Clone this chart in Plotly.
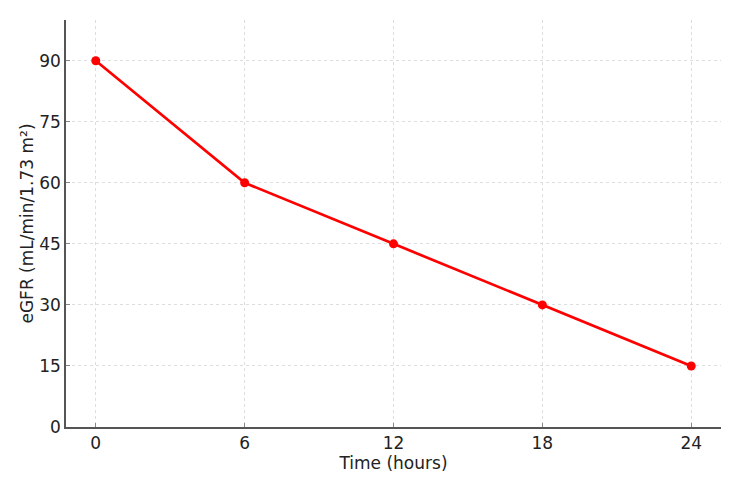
import plotly.graph_objects as go

time_hours = [0, 6, 12, 18, 24]
egfr = [90, 60, 45, 30, 15]
x_ticks = [0, 6, 12, 18, 24]
y_ticks = [0, 15, 30, 45, 60, 75, 90]

fig = go.Figure()
fig.add_trace(go.Scatter(
    x=time_hours, y=egfr, mode="lines+markers",
    line=dict(color="#ff0000", width=2.7),
    marker=dict(color="#ff0000", size=9),
    showlegend=False,
))

font = dict(family="DejaVu Sans", size=17, color="#222222")
# the page body has an 8px margin, so the figure is sized/offset to compensate
fig.update_layout(
    width=726, height=478,
    margin=dict(l=58, r=13, t=12, b=59, autoexpand=False),
    plot_bgcolor="white", paper_bgcolor="white",
    font=font,
)
fig.update_xaxes(
    range=[-1.2, 25.2], tickvals=x_ticks, ticktext=[str(v) for v in x_ticks],
    showline=True, linecolor="#555555", linewidth=1.5,
    ticks="inside", ticklen=4, tickcolor="#888888",
    showgrid=True, gridcolor="#dddddd", griddash="dot", gridwidth=1,
    zeroline=False, automargin=False,
    title=dict(text="Time (hours)", font=dict(family="DejaVu Sans", size=17, color="#222222"), standoff=4),
    tickfont=font,
)
fig.update_yaxes(
    range=[0, 100], tickvals=y_ticks, ticktext=[str(v) for v in y_ticks],
    showline=True, linecolor="#555555", linewidth=1.5,
    ticks="inside", ticklen=4, tickcolor="#888888",
    showgrid=True, gridcolor="#dddddd", griddash="dot", gridwidth=1,
    zeroline=False, automargin=False,
    title=dict(text="eGFR (mL/min/1.73 m²)", font=dict(family="DejaVu Sans", size=17, color="#222222"), standoff=1),
    tickfont=font,
)

fig.write_html("out.html")
